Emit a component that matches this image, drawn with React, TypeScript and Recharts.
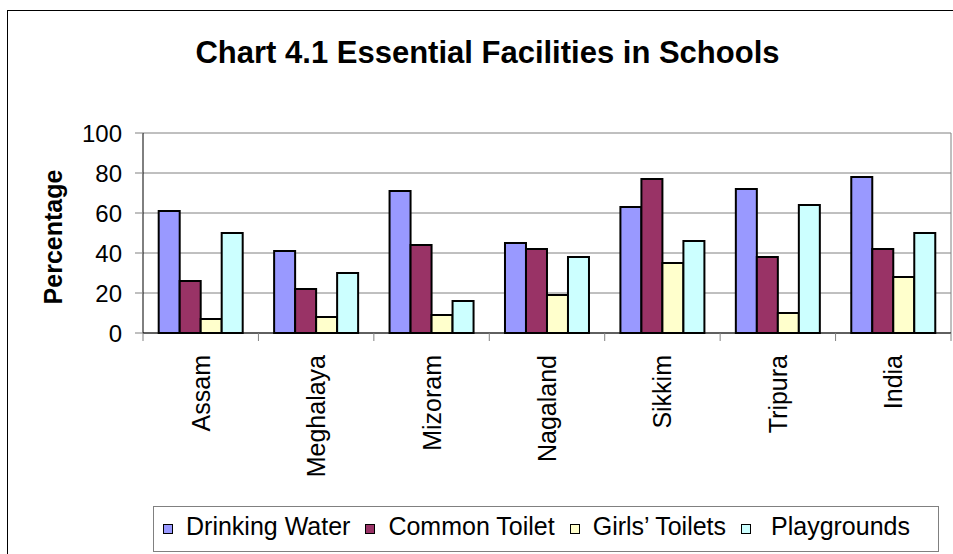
import React from "react";
import { Bar, BarChart, CartesianGrid, XAxis, YAxis } from "recharts";

const STATES = ["Assam", "Meghalaya", "Mizoram", "Nagaland", "Sikkim", "Tripura", "India"];
const DRINKING_WATER = [61, 41, 71, 45, 63, 72, 78];
const COMMON_TOILET = [26, 22, 44, 42, 77, 38, 42];
const GIRLS_TOILETS = [7, 8, 9, 19, 35, 10, 28];
const PLAYGROUNDS = [50, 30, 16, 38, 46, 64, 50];
const Y_TICKS = [0, 20, 40, 60, 80, 100];

const SERIES = [
  { key: "drinking", name: "Drinking Water", color: "#9999FF", values: DRINKING_WATER },
  { key: "common", name: "Common Toilet", color: "#993366", values: COMMON_TOILET },
  { key: "girls", name: "Girls\u2019 Toilets", color: "#FFFFCC", values: GIRLS_TOILETS },
  { key: "play", name: " Playgrounds", color: "#CCFFFF", values: PLAYGROUNDS },
];

const FONT = '"Liberation Sans", Arial, sans-serif';
const W = 953;
const H = 554;
const PLOT_W = 808;

const rows = STATES.map((s, i) => {
  const r: Record<string, string | number> = { state: s };
  SERIES.forEach((se) => (r[se.key] = se.values[i]));
  return r;
});

function StateTick(props: any) {
  const { x, y, payload, index } = props;
  const half = payload?.offset || PLOT_W / STATES.length / 2;
  const tx = x + 9;
  const ty = y + 22;
  return (
    <g>
      <line x1={x - half} x2={x - half} y1={y} y2={y + 8} stroke="#808080" />
      {index === STATES.length - 1 && (
        <line x1={x + half} x2={x + half} y1={y} y2={y + 8} stroke="#808080" />
      )}
      <text
        x={tx}
        y={ty}
        transform={`rotate(-90, ${tx}, ${ty})`}
        textAnchor="end"
        fontSize={25}
        fontFamily={FONT}
        fill="#000"
      >
        {payload.value}
      </text>
    </g>
  );
}

function YLabel(props: any) {
  const vb = props.viewBox || { x: 43, y: 133, width: 100, height: 200 };
  const cx = vb.x + 19;
  const cy = vb.y + vb.height / 2 + 4;
  return (
    <text
      x={cx}
      y={cy}
      transform={`rotate(-90, ${cx}, ${cy})`}
      textAnchor="middle"
      fontSize={25}
      fontWeight="bold"
      fontFamily={FONT}
      fill="#000"
    >
      Percentage
    </text>
  );
}

function ChartLegend() {
  return (
    <div
      style={{
        position: "absolute",
        left: 153,
        top: 506,
        width: 786,
        height: 46,
        boxSizing: "border-box",
        border: "1px solid #808080",
        background: "#fff",
        display: "flex",
        alignItems: "center",
        paddingLeft: 9,
        fontFamily: FONT,
        fontSize: 25,
        whiteSpace: "pre",
      }}
    >
      {SERIES.map((s, i) => (
        <div key={s.key} style={{ display: "flex", alignItems: "center", marginLeft: i === 0 ? 0 : 15 }}>
          <span
            style={{
              width: 10,
              height: 10,
              boxSizing: "border-box",
              border: "1.5px solid #000",
              background: s.color,
              marginRight: 13,
            }}
          />
          <span style={{ position: "relative", top: -3, lineHeight: "30px" }}>{s.name}</span>
        </div>
      ))}
    </div>
  );
}

export default function App() {
  return (
    <div
      style={{
        position: "absolute",
        left: 0,
        top: 0,
        width: W,
        height: H,
        overflow: "hidden",
        background: "#fff",
      }}
    >
      <div
        style={{
          position: "absolute",
          left: 7,
          top: 10,
          width: 1000,
          height: 600,
          border: "1px solid #000",
        }}
      />
      <div
        style={{
          position: "absolute",
          left: 0,
          top: 37,
          width: 975,
          textAlign: "center",
          fontFamily: FONT,
          fontWeight: "bold",
          fontSize: 31,
          lineHeight: "31px",
          whiteSpace: "nowrap",
        }}
      >
        Chart 4.1 Essential Facilities in Schools
      </div>
      <div style={{ position: "absolute", left: 0, top: 0 }}>
        <BarChart
          width={W}
          height={H}
          data={rows}
          margin={{ top: 133, right: 2, bottom: 81, left: 43 }}
          barCategoryGap="13.6%"
          barGap={0}
        >
          <CartesianGrid
            stroke="#808080"
            vertical={true}
            horizontal={true}
            verticalCoordinatesGenerator={({ offset }: any) => [offset.left + offset.width]}
          />
          <XAxis
            dataKey="state"
            height={140}
            interval={0}
            tickLine={false}
            tickSize={0}
            tickMargin={0}
            axisLine={{ stroke: "#000" }}
            tick={<StateTick />}
          />
          <YAxis
            width={100}
            domain={[0, 100]}
            ticks={Y_TICKS}
            interval={0}
            tickSize={8}
            tickMargin={13}
            tickLine={{ stroke: "#808080" }}
            axisLine={{ stroke: "#000" }}
            tick={{ fontSize: 24, fontFamily: FONT, fill: "#000" }}
            label={<YLabel />}
          />
          {SERIES.map((s) => (
            <Bar
              key={s.key}
              dataKey={s.key}
              name={s.name}
              fill={s.color}
              stroke="#000"
              strokeWidth={2}
              isAnimationActive={false}
            />
          ))}
        </BarChart>
      </div>
      <ChartLegend />
    </div>
  );
}
